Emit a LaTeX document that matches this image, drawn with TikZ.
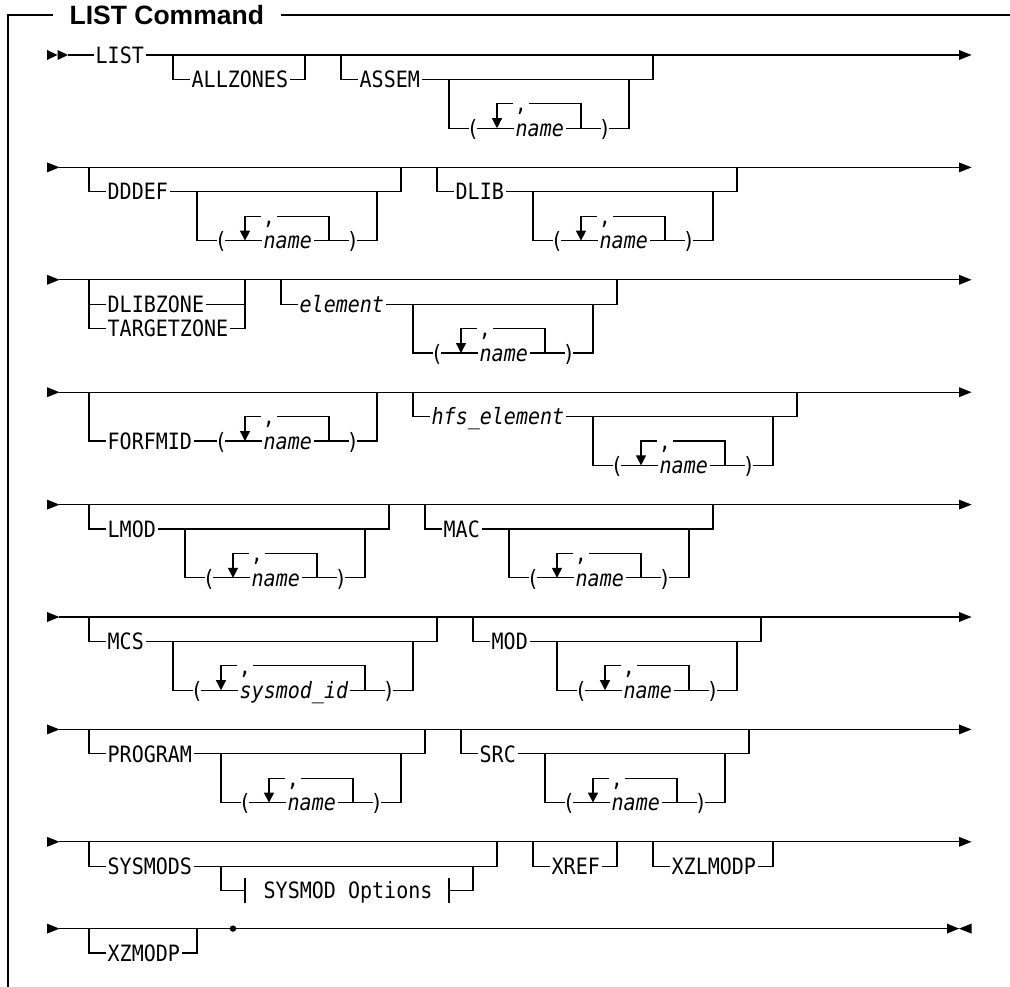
\documentclass[tikz,border=0pt]{standalone}
\usepackage{fontspec}
\usetikzlibrary{arrows.meta}
\newfontfamily\synfont{DejaVu Sans Mono}[ItalicFont={DejaVu Sans Mono Oblique}, FakeStretch=0.89]
\newfontfamily\titlefont{Liberation Sans}

\tikzset{
  kw/.style={font={\synfont\fontsize{22.5pt}{26pt}\selectfont}, text height=16.4pt, text depth=0pt, inner xsep=1.5pt, inner ysep=0pt},
  kwi/.style={kw, font={\synfont\itshape\fontsize{22.5pt}{26pt}\selectfont}},
  pn/.style={kw, inner xsep=-2.5pt},
  ttl/.style={font={\titlefont\bfseries\fontsize{26.5pt}{30pt}\selectfont}, text height=20pt, text depth=0pt, inner xsep=16pt, inner ysep=0pt},
  loopar/.style={-{Triangle[length=10pt,width=10pt]}},
}

% row levels: main line, first, second and third branch line
\newcommand\setrow[1]{%
  \pgfmathsetmacro\yM{#1}%
  \pgfmathsetmacro\yA{#1+24.4}%
  \pgfmathsetmacro\yB{#1+48.8}%
  \pgfmathsetmacro\yC{#1+73.2}}

% row entry and exit arrowheads
\newcommand\entryarrow[1]{\fill (47,{#1-5}) -- (59.5,#1) -- (47,{#1+5}) -- cycle;}
\newcommand\exitarrow[1]{\fill (959,{#1-5}) -- (971.5,#1) -- (959,{#1+5}) -- cycle;}

% plain main line of a row
\newcommand\mainrow[2]{%
  \entryarrow{#2}%
  \coordinate (#1-s) at (59,#2);
  \coordinate (#1-e) at (959,#2);
  \draw (#1-s) -- (#1-e);
  \exitarrow{#2}}

% optional item: id, main y, branch y, left cell, text cell, right cell, text, style
\newcommand\optitem[8]{%
  \node[#8, anchor=west] (#1) at ({lft(#5)-1.5},#3) {#7};
  \coordinate (#1-l) at ({ctr(#4)},#2);
  \coordinate (#1-r) at ({ctr(#6)},#2);
  \draw (#1-l) |- (#1.west);
  \draw (#1.east) -| (#1-r);}

% optional repeatable list ( name, ... ): id, hanging y, left cell, name, name length
\newcommand\repgrp[5]{%
  \pgfmathsetmacro\rgT{#2+24.4}%
  \pgfmathsetmacro\rgN{#2+48.8}%
  \coordinate (#1-il) at ({ctr(#3)},#2);
  \coordinate (#1-ir) at ({ctr(#3+11+#5)},#2);
  \coordinate (#1-ar) at ({ctr(#3+4)},\rgN);
  \coordinate (#1-lr) at ({ctr(#3+7+#5)},\rgN);
  \node[pn] (#1-lp) at ({ctr(#3+2)},\rgN) {(};
  \node[pn] (#1-rp) at ({ctr(#3+9+#5)},\rgN) {)};
  \node[kwi, anchor=west] (#1-nm) at ({lft(#3+6)-1.5},\rgN) {#4};
  \node[kw] (#1-cm) at ({ctr(#3+6)},\rgT) {,};
  \draw (#1-il) |- (#1-lp.west);
  \draw (#1-lp.east) -- (#1-nm.west);
  \draw (#1-nm.east) -- (#1-rp.west);
  \draw (#1-rp.east) -| (#1-ir);
  \draw (#1-lr) |- (#1-cm.east);
  \draw[loopar] (#1-cm.west) -| (#1-ar);}

\begin{document}
\begin{tikzpicture}[x=1pt, y=-1pt, line width=1.3pt,
  declare function={ctr(\k)=17+12*(\k); lft(\k)=11+12*(\k);}]
\useasboundingbox (0,0) rectangle (1010,987);

% titled frame
\node[ttl, anchor=west] (title) at (53,15) {LIST Command};
\coordinate (frTR) at (1010,15);
\coordinate (frBL) at (8,987);
\draw (title.east) -- (frTR);
\draw (title.west) -| (frBL);

% ---- row 1: LIST ALLZONES ASSEM
\setrow{55}
\fill (47,{\yM-5}) -- (57.5,\yM) -- (47,{\yM+5}) -- cycle;
\fill (57.5,{\yM-5}) -- (68,\yM) -- (57.5,{\yM+5}) -- cycle;
\coordinate (r1-s) at (68,\yM);
\coordinate (r1-e) at (959,\yM);
\node[kw, anchor=west] (list) at ({lft(7)-1.5},\yM) {LIST};
\draw (r1-s) -- (list.west);
\draw (list.east) -- (r1-e);
\exitarrow{\yM}
\optitem{allz}{\yM}{\yA}{13}{15}{24}{ALLZONES}{kw}
\optitem{assem}{\yM}{\yA}{27}{29}{53}{ASSEM}{kw}
\repgrp{assemr}{\yA}{36}{name}{4}

% ---- row 2: DDDEF DLIB
\setrow{167.4}
\mainrow{r2}{\yM}
\optitem{dddef}{\yM}{\yA}{6}{8}{32}{DDDEF}{kw}
\repgrp{dddefr}{\yA}{15}{name}{4}
\optitem{dlib}{\yM}{\yA}{35}{37}{60}{DLIB}{kw}
\repgrp{dlibr}{\yA}{43}{name}{4}

% ---- row 3: DLIBZONE / TARGETZONE, element
\setrow{279.8}
\mainrow{r3}{\yM}
\node[kw, anchor=west] (dz) at ({lft(8)-1.5},\yA) {DLIBZONE};
\node[kw, anchor=west] (tz) at ({lft(8)-1.5},\yB) {TARGETZONE};
\coordinate (zl) at ({ctr(6)},\yM);
\coordinate (zr) at ({ctr(19)},\yM);
\coordinate (zlm) at ({ctr(6)},\yA);
\coordinate (zrm) at ({ctr(19)},\yA);
\draw (zl) |- (tz.west);
\draw (zlm) -- (dz.west);
\draw (tz.east) -| (zr);
\draw (dz.east) -- (zrm);
\optitem{elem}{\yM}{\yA}{22}{24}{50}{element}{kwi}
\repgrp{elemr}{\yA}{33}{name}{4}

% ---- row 4: FORFMID, hfs_element
\setrow{392.2}
\mainrow{r4}{\yM}
\node[kw, anchor=west] (ff) at ({lft(8)-1.5},\yB) {FORFMID};
\coordinate (ffl) at ({ctr(6)},\yM);
\coordinate (ffr) at ({ctr(30)},\yM);
\coordinate (ffar) at ({ctr(19)},\yB);
\coordinate (fflr) at ({ctr(26)},\yB);
\node[pn] (fflp) at ({ctr(17)},\yB) {(};
\node[kwi, anchor=west] (ffnm) at ({lft(21)-1.5},\yB) {name};
\node[pn] (ffrp) at ({ctr(28)},\yB) {)};
\node[kw] (ffcm) at ({ctr(21)},\yA) {,};
\draw (ffl) |- (ff.west);
\draw (ff.east) -- (fflp.west);
\draw (fflp.east) -- (ffnm.west);
\draw (ffnm.east) -- (ffrp.west);
\draw (ffrp.east) -| (ffr);
\draw (fflr) |- (ffcm.east);
\draw[loopar] (ffcm.west) -| (ffar);
\optitem{hfs}{\yM}{\yA}{33}{35}{65}{hfs\_element}{kwi}
\repgrp{hfsr}{\yA}{48}{name}{4}

% ---- row 5: LMOD MAC
\setrow{504.6}
\mainrow{r5}{\yM}
\optitem{lmod}{\yM}{\yA}{6}{8}{31}{LMOD}{kw}
\repgrp{lmodr}{\yA}{14}{name}{4}
\optitem{mac}{\yM}{\yA}{34}{36}{58}{MAC}{kw}
\repgrp{macr}{\yA}{41}{name}{4}

% ---- row 6: MCS MOD
\setrow{617}
\mainrow{r6}{\yM}
\optitem{mcs}{\yM}{\yA}{6}{8}{35}{MCS}{kw}
\repgrp{mcsr}{\yA}{13}{sysmod\_id}{9}
\optitem{mod}{\yM}{\yA}{38}{40}{62}{MOD}{kw}
\repgrp{modr}{\yA}{45}{name}{4}

% ---- row 7: PROGRAM SRC
\setrow{729.4}
\mainrow{r7}{\yM}
\optitem{prog}{\yM}{\yA}{6}{8}{34}{PROGRAM}{kw}
\repgrp{progr}{\yA}{17}{name}{4}
\optitem{src}{\yM}{\yA}{37}{39}{61}{SRC}{kw}
\repgrp{srcr}{\yA}{44}{name}{4}

% ---- row 8: SYSMODS XREF XZLMODP
\setrow{841.8}
\mainrow{r8}{\yM}
\optitem{sysm}{\yM}{\yA}{6}{8}{40}{SYSMODS}{kw}
\coordinate (sol) at ({ctr(17)},\yA);
\coordinate (sor) at ({ctr(38)},\yA);
\coordinate (sob1) at ({ctr(19)},\yB);
\coordinate (sob2) at ({ctr(36)},\yB);
\node[kw, anchor=west] (sopt) at ({lft(21)-1.5},\yB) {SYSMOD Options};
\draw (sol) |- (sob1);
\draw (sob2) -| (sor);
\draw ([yshift=12.5pt]sob1) -- ([yshift=-12.5pt]sob1);
\draw ([yshift=12.5pt]sob2) -- ([yshift=-12.5pt]sob2);
\optitem{xref}{\yM}{\yA}{43}{45}{50}{XREF}{kw}
\optitem{xzl}{\yM}{\yA}{53}{55}{63}{XZLMODP}{kw}

% ---- row 9: XZMODP and end of statement
\setrow{928.6}
\entryarrow{\yM}
\coordinate (r9-s) at (59,\yM);
\coordinate (r9-e) at (959,\yM);
\coordinate (dot) at ({ctr(18)},\yM);
\draw (r9-s) -- (r9-e);
\fill (dot) circle[radius=3.2pt];
\fill (947,{\yM-5}) -- (959,\yM) -- (947,{\yM+5}) -- cycle;
\fill (971.5,{\yM-5}) -- (959,\yM) -- (971.5,{\yM+5}) -- cycle;
\optitem{xzm}{\yM}{\yA}{6}{8}{15}{XZMODP}{kw}

\end{tikzpicture}
\end{document}
